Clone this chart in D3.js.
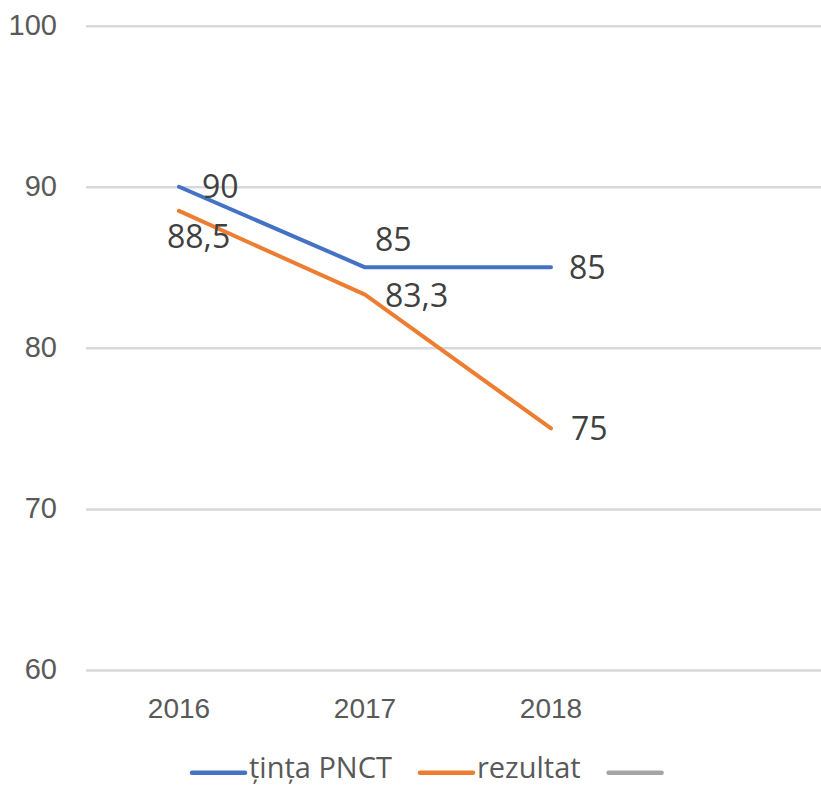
<!DOCTYPE html>
<html>
<head>
<meta charset="utf-8">
<script src="https://cdn.jsdelivr.net/npm/d3@7"></script>
<style>
  body { margin: 0; background: #fff; }
  svg { display: block; font-family: "Open Sans", sans-serif; }
</style>
</head>
<body>
<script>
// chart values
const years = ["2016", "2017", "2018", ""];
const tinta = [90, 85, 85];
const rezultat = [88.5, 83.3, 75];
const yTicks = [60, 70, 80, 90, 100];
const seriesNames = ["țința PNCT", "rezultat", ""];

const width = 821;
const height = 785;

// plot area
const plotLeft = 86, plotRight = 830, plotTop = 25.7, plotBottom = 670;

// label nudges (dx, dy) per point, like the dragged excel labels
const tintaLabelOffset = [[23, 0], [10, -28], [18, 0]];
const rezultatLabelOffset = [[-12, 26], [20, 1], [20, 0]];

const colors = ["#4472C4", "#ED7D31", "#A5A5A5"];

var svg = d3.select("body").append("svg")
  .attr("width", width)
  .attr("height", height);

var x = d3.scaleBand().domain(years).range([plotLeft, plotRight]);
var y = d3.scaleLinear().domain([60, 100]).range([plotBottom, plotTop]);

// gridlines + y labels
var yAxis = svg.append("g")
  .attr("transform", "translate(" + plotLeft + ",0)")
  .call(d3.axisLeft(y).tickValues(yTicks).tickSize(-(plotRight - plotLeft)).tickPadding(29));
yAxis.select(".domain").remove();
yAxis.selectAll(".tick line").attr("stroke", "#d9d9d9").attr("stroke-width", 2.5);
yAxis.selectAll(".tick text")
  .attr("fill", "#595959")
  .style("font-size", "29px")
  .attr("dy", "0.3em");

// x labels
var xAxis = svg.append("g")
  .attr("transform", "translate(0," + plotBottom + ")")
  .call(d3.axisBottom(x).tickSize(0).tickPadding(0));
xAxis.select(".domain").remove();
xAxis.selectAll(".tick text")
  .attr("fill", "#595959")
  .style("font-size", "28px")
  .attr("y", 48)
  .attr("dy", 0);

var cx = d => x(d) + x.bandwidth() / 2;

var line = d3.line()
  .x((d, i) => cx(years[i]))
  .y(d => y(d));

function drawSeries(values, color, offsets) {
  svg.append("path")
    .datum(values)
    .attr("d", line)
    .attr("fill", "none")
    .attr("stroke", color)
    .attr("stroke-width", 4)
    .attr("stroke-linecap", "round")
    .attr("stroke-linejoin", "round");

  svg.selectAll(null)
    .data(values)
    .enter()
    .append("text")
    .attr("x", (d, i) => cx(years[i]) + offsets[i][0])
    .attr("y", (d, i) => y(d) + offsets[i][1] + 32 * 0.36)
    .attr("fill", "#404040")
    .style("font-size", "32px")
    .text(d => String(d).replace(".", ","));
}

drawSeries(tinta, colors[0], tintaLabelOffset);
drawSeries(rezultat, colors[1], rezultatLabelOffset);

// legend
var legend = svg.append("g");
var lx = 192, ly = 772.7;
seriesNames.forEach(function (name, i) {
  legend.append("line")
    .attr("x1", lx).attr("x2", lx + 53)
    .attr("y1", ly).attr("y2", ly)
    .attr("stroke", colors[i])
    .attr("stroke-width", 4.5)
    .attr("stroke-linecap", "round");
  lx += 57;
  if (name) {
    var t = legend.append("text")
      .attr("x", lx)
      .attr("y", 778)
      .attr("fill", "#595959")
      .style("font-size", "29px")
      .text(name);
    lx += t.node().getComputedTextLength() + 28;
  }
});
</script>
</body>
</html>
